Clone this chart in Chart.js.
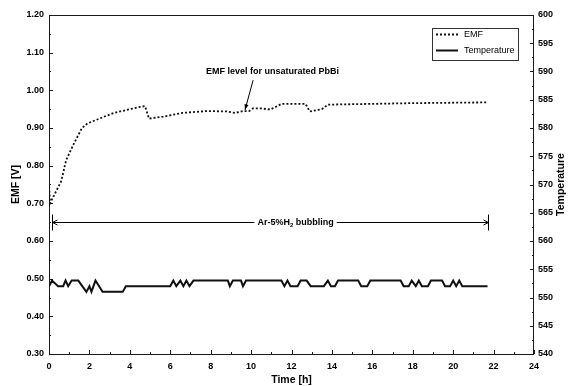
<!DOCTYPE html>
<html>
<head>
<meta charset="utf-8">
<script src="https://cdn.jsdelivr.net/npm/chart.js@4.4.1/dist/chart.umd.min.js"></script>
<style>
  html, body { margin: 0; padding: 0; background: #fff; }
  #wrap { width: 568px; height: 386px; }
</style>
</head>
<body>
<div id="wrap"><canvas id="myChart"></canvas></div>
<script>
// EMF [V] vs time [h]
const emfTime = [0, 0.05, 0.2, 0.6, 0.85, 1.2, 1.62, 1.9, 2.5, 3.2, 3.85, 4.5, 4.75, 4.95, 5.65, 6.6, 7.8, 8.8, 9.2, 9.6, 9.9, 10.1, 10.5, 10.95, 11.3, 11.5, 12.7, 12.9, 13.5, 13.8, 15.9, 18, 21.7];
const emfValue = [0.755, 0.70, 0.716, 0.758, 0.815, 0.855, 0.899, 0.912, 0.925, 0.94, 0.948, 0.956, 0.958, 0.925, 0.93, 0.94, 0.945, 0.944, 0.94, 0.945, 0.945, 0.952, 0.952, 0.949, 0.958, 0.964, 0.964, 0.944, 0.95, 0.962, 0.964, 0.966, 0.968];

// Temperature vs time [h]
const tempTime = [0, 0.15, 0.45, 0.7, 0.82, 0.95, 1.12, 1.45, 1.85, 2.0, 2.1, 2.3, 2.65, 3.65, 3.8, 6.0, 6.15, 6.3, 6.5, 6.65, 6.8, 6.95, 7.15, 8.85, 8.95, 9.1, 9.5, 9.6, 9.75, 11.5, 11.65, 11.8, 11.95, 12.3, 12.45, 12.75, 12.95, 13.6, 13.8, 13.95, 14.15, 14.3, 15.3, 15.45, 15.75, 15.9, 17.4, 17.55, 17.8, 17.95, 18.15, 18.3, 18.45, 18.75, 18.9, 19.45, 19.6, 19.85, 20.0, 20.15, 20.3, 20.45, 21.7];
const tempValue = [552, 553, 552, 552, 553, 552, 553, 553, 551, 552, 551, 553, 551, 551, 552, 552, 553, 552, 553, 552, 553, 552, 553, 553, 552, 553, 553, 552, 553, 553, 552, 553, 552, 552, 553, 553, 552, 552, 553, 552, 552, 553, 553, 552, 552, 553, 553, 552, 552, 553, 552, 553, 552, 552, 553, 553, 552, 552, 553, 552, 553, 552, 552];

const timeTicks = [0, 2, 4, 6, 8, 10, 12, 14, 16, 18, 20, 22, 24];
const emfTicks = [0.30, 0.40, 0.50, 0.60, 0.70, 0.80, 0.90, 1.00, 1.10, 1.20];
const tempTicks = [540, 545, 550, 555, 560, 565, 570, 575, 580, 585, 590, 595, 600];

const FONT = "'Liberation Sans', Arial, Helvetica, sans-serif";
Chart.defaults.font.family = FONT;
Chart.defaults.color = '#000';

const toPoints = (xs, ys) => xs.map((x, i) => ({ x: x, y: ys[i] }));

const decor = {
  id: 'decor',
  beforeDatasetsDraw(chart) {
    const { ctx, chartArea: a, scales } = chart;
    ctx.save();
    ctx.strokeStyle = '#1a1a1a';
    ctx.lineWidth = 1;
    ctx.strokeRect(a.left + 0.5, a.top + 0.5, a.right - a.left - 1, a.bottom - a.top);
    ctx.beginPath();
    // bottom ticks, inward
    for (let v = 0; v <= 24; v += 1) {
      const x = Math.round(scales.x.getPixelForValue(v)) + 0.5;
      const len = v % 2 === 0 ? 4 : 2;
      ctx.moveTo(x, a.bottom);
      ctx.lineTo(x, a.bottom - len);
    }
    // left ticks
    for (let i = 0; i <= 18; i++) {
      const y = Math.round(scales.y.getPixelForValue(0.30 + i * 0.05)) + 0.5;
      const len = i % 2 === 0 ? 4 : 2;
      ctx.moveTo(a.left, y);
      ctx.lineTo(a.left + len, y);
    }
    // right ticks
    for (let i = 0; i <= 24; i++) {
      const y = Math.round(scales.y1.getPixelForValue(540 + i * 2.5)) + 0.5;
      const len = i % 2 === 0 ? 4 : 2;
      ctx.moveTo(a.right, y);
      ctx.lineTo(a.right - len, y);
    }
    ctx.stroke();
    ctx.restore();
  },
  afterDatasetsDraw(chart) {
    const { ctx, chartArea: a, scales } = chart;
    const px = v => scales.x.getPixelForValue(v);
    const py = v => scales.y.getPixelForValue(v);
    ctx.save();
    ctx.fillStyle = '#000';
    ctx.strokeStyle = '#000';

    // bubbling span
    const yb = Math.round(py(0.65)) + 0.5;
    const x0 = Math.round(px(0.13)) + 0.5, x1 = Math.round(px(21.7)) + 0.5;
    ctx.lineWidth = 1;
    ctx.beginPath();
    ctx.moveTo(x0, yb); ctx.lineTo(x1, yb);
    ctx.moveTo(x0, yb - 8); ctx.lineTo(x0, yb + 8);
    ctx.moveTo(x1, yb - 8); ctx.lineTo(x1, yb + 8);
    ctx.moveTo(x0 + 5, yb - 2.5); ctx.lineTo(x0, yb); ctx.lineTo(x0 + 5, yb + 2.5);
    ctx.moveTo(x1 - 5, yb - 2.5); ctx.lineTo(x1, yb); ctx.lineTo(x1 - 5, yb + 2.5);
    ctx.stroke();
    // label with white background
    const tx = px(12.2);
    ctx.font = 'bold 9px ' + FONT;
    const p1 = 'Ar-5%H', p3 = ' bubbling';
    const w1 = ctx.measureText(p1).width, w3 = ctx.measureText(p3).width;
    ctx.font = 'bold 6px ' + FONT;
    const w2 = ctx.measureText('2').width;
    const tw = w1 + w2 + w3;
    ctx.fillStyle = '#fff';
    ctx.fillRect(tx - tw / 2 - 3, yb - 6, tw + 6, 12);
    ctx.fillStyle = '#000';
    ctx.textBaseline = 'middle';
    ctx.textAlign = 'left';
    ctx.font = 'bold 9px ' + FONT;
    ctx.fillText(p1, tx - tw / 2, yb);
    ctx.fillText(p3, tx - tw / 2 + w1 + w2, yb);
    ctx.font = 'bold 6px ' + FONT;
    ctx.fillText('2', tx - tw / 2 + w1, yb + 3);

    // unsaturated PbBi note and arrow
    ctx.font = 'bold 9px ' + FONT;
    ctx.textAlign = 'center';
    ctx.fillText('EMF level for unsaturated PbBi', px(11.06), py(1.051));
    const ax0 = px(10.1), ay0 = py(1.027), ax1 = px(9.7), ay1 = py(0.948);
    ctx.beginPath();
    ctx.moveTo(ax0, ay0); ctx.lineTo(ax1, ay1);
    ctx.stroke();
    const ang = Math.atan2(ay1 - ay0, ax1 - ax0);
    ctx.beginPath();
    ctx.moveTo(ax1, ay1);
    ctx.lineTo(ax1 - 6 * Math.cos(ang - 0.35), ay1 - 6 * Math.sin(ang - 0.35));
    ctx.lineTo(ax1 - 6 * Math.cos(ang + 0.35), ay1 - 6 * Math.sin(ang + 0.35));
    ctx.closePath();
    ctx.fill();

    // legend box
    const lx = a.right - 102, ly = a.top + 13, lw = 86, lh = 32;
    ctx.fillStyle = '#fff';
    ctx.fillRect(lx, ly, lw, lh);
    ctx.strokeStyle = '#333';
    ctx.lineWidth = 1;
    ctx.strokeRect(Math.round(lx) + 0.5, Math.round(ly) + 0.5, lw, lh);
    const ds = chart.data.datasets;
    ds.forEach((d, i) => {
      const ry = Math.round(ly + 6 + i * 16) + 0.5;
      ctx.strokeStyle = '#111';
      ctx.lineWidth = d.borderWidth;
      ctx.setLineDash(d.borderDash || []);
      ctx.beginPath();
      ctx.moveTo(lx + 4, ry); ctx.lineTo(lx + 26, ry);
      ctx.stroke();
      ctx.setLineDash([]);
      ctx.fillStyle = '#000';
      ctx.font = '9px ' + FONT;
      ctx.textAlign = 'left';
      ctx.fillText(d.label, lx + 32, ry);
    });

    // axis titles
    ctx.fillStyle = '#000';
    ctx.font = 'bold 10.5px ' + FONT;
    ctx.textAlign = 'center';
    ctx.textBaseline = 'middle';
    ctx.fillText('Time [h]', (a.left + a.right) / 2, 380);
    const cy = (a.top + a.bottom) / 2;
    ctx.save();
    ctx.translate(16, cy);
    ctx.rotate(-Math.PI / 2);
    ctx.fillText('EMF [V]', 0, 0);
    ctx.restore();
    ctx.save();
    ctx.translate(561, cy);
    ctx.rotate(-Math.PI / 2);
    ctx.fillText('Temperature', 0, 0);
    ctx.restore();
    ctx.restore();
  }
};

const config = {
  type: 'line',
  data: {
    datasets: [
      {
        label: 'EMF',
        data: toPoints(emfTime, emfValue),
        yAxisID: 'y',
        borderColor: '#111',
        borderWidth: 1.8,
        borderDash: [2, 2],
        pointRadius: 0,
        tension: 0,
        fill: false
      },
      {
        label: 'Temperature',
        data: toPoints(tempTime, tempValue),
        yAxisID: 'y1',
        borderColor: '#111',
        borderWidth: 2,
        pointRadius: 0,
        tension: 0,
        fill: false
      }
    ]
  },
  options: {
    responsive: true,
    maintainAspectRatio: false,
    animation: false,
    layout: { padding: { top: 15, left: 0, right: 0, bottom: 0 } },
    plugins: {
      legend: { display: false },
      tooltip: { enabled: false }
    },
    scales: {
      x: {
        type: 'linear',
        min: 0,
        max: 24,
        afterBuildTicks: s => { s.ticks = timeTicks.map(v => ({ value: v })); },
        afterFit: s => { s.height = 32; },
        grid: { display: false, drawTicks: false },
        border: { display: false },
        ticks: { autoSkip: false, maxRotation: 0, padding: 7, font: { size: 9, weight: 'bold' } }
      },
      y: {
        position: 'left',
        min: 0.30,
        max: 1.20,
        afterBuildTicks: s => { s.ticks = emfTicks.map(v => ({ value: v })); },
        afterFit: s => { s.width = 49; },
        grid: { display: false, drawTicks: false },
        border: { display: false },
        ticks: { autoSkip: false, padding: 5, font: { size: 9, weight: 'bold' }, callback: v => v.toFixed(2) }
      },
      y1: {
        position: 'right',
        min: 540,
        max: 600,
        afterBuildTicks: s => { s.ticks = tempTicks.map(v => ({ value: v })); },
        afterFit: s => { s.width = 34; },
        grid: { display: false, drawTicks: false },
        border: { display: false },
        ticks: { autoSkip: false, padding: 4, font: { size: 9, weight: 'bold' } }
      }
    }
  },
  plugins: [decor]
};

const myChart = new Chart(document.getElementById('myChart'), config);
</script>
</body>
</html>
